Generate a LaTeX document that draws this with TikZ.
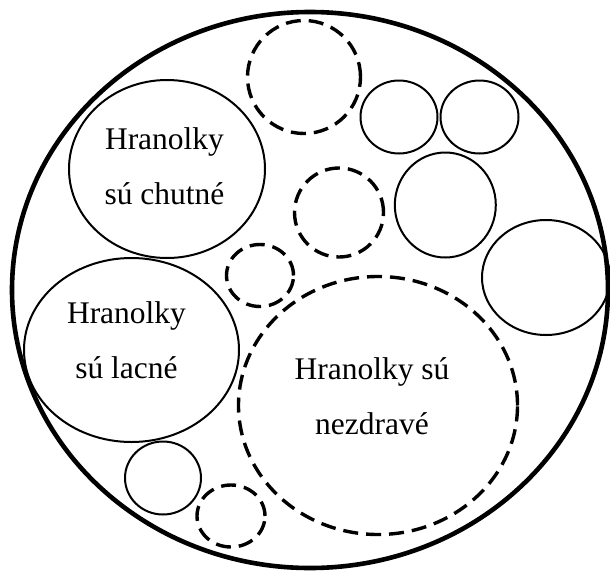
\documentclass[tikz,border=0pt]{standalone}
\usepackage{fontspec}
\setmainfont{Liberation Serif}
\usetikzlibrary{shapes.geometric}

\begin{document}
\begin{tikzpicture}[x=1pt,y=-1pt,
    plain/.style={ellipse,draw,line width=2pt,inner sep=0pt},
    dashy/.style={ellipse,draw,line width=3.4pt,dash pattern=on 15pt off 8pt,inner sep=0pt},
    txt/.style={align=center,inner sep=0pt,font=\fontsize{31.5}{55}\selectfont}]
                \useasboundingbox (0,0) rectangle (610,573);
                \node[ellipse,draw,line width=4.6pt,minimum width=596pt,minimum height=556pt] (outer) at (310,290) {};

                % full circles
                \foreach \cx/\cy/\w/\h/\n in {167/169/196/178/chutne, 131.5/350/215/184/lacne,
                    399/117/77/73/topa, 479.5/117/78/73/topb, 445.3/205/101/105/midr,
                    546/277.5/128/115/farr, 163/478/76/73/botl}
                \node[plain,minimum width=\w pt,minimum height=\h pt] (\n) at (\cx,\cy) {};

                % dashed circles
                \foreach \cx/\cy/\w/\h/\n in {304/77/113/113/dtop, 339/212.5/89/89/dmid,
                    260/275.5/67/62/dsmall, 231/516/68/62/dbot, 378/405.5/279/258/nezdrave}
                \node[dashy,minimum width=\w pt,minimum height=\h pt] (\n) at (\cx,\cy) {};

                \node[txt] (t-chutne) at (164.5,166) {Hranolky\\sú chutné};
                \node[txt] (t-lacne) at (126.5,340) {Hranolky\\sú lacné};
                \node[txt] (t-nezdrave) at (372,396) {Hranolky sú\\nezdravé};
            \end{tikzpicture}
\end{document}
